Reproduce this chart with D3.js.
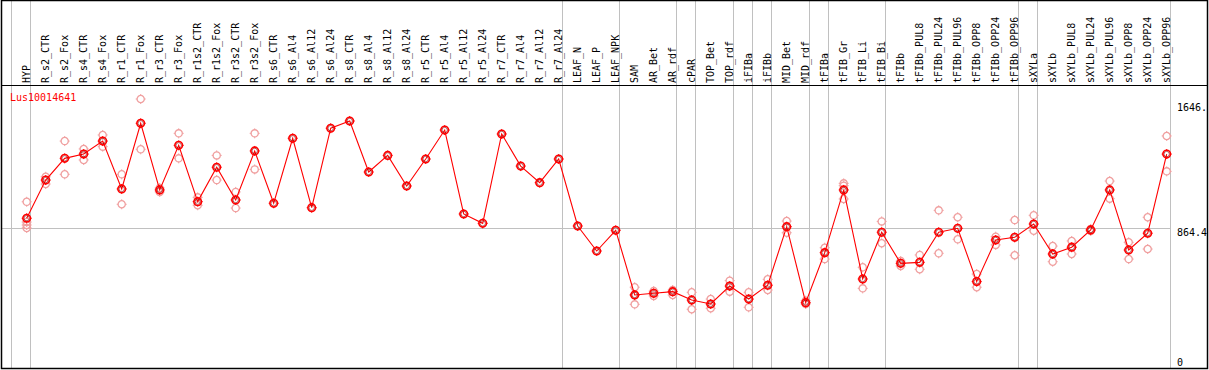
<!DOCTYPE html>
<html>
<head>
<meta charset="utf-8">
<script src="https://cdn.jsdelivr.net/npm/d3@7"></script>
<style>
  body { margin: 0; background: #fff; }
  svg { display: block; }
</style>
</head>
<body>
<div id="chart"></div>
<script>
const geneName = "Lus10014641"

const samples = [
  "HYP", "R_s2_CTR", "R_s2_Fox", "R_s4_CTR", "R_s4_Fox", "R_r1_CTR", "R_r1_Fox",
  "R_r3_CTR", "R_r3_Fox", "R_r1s2_CTR", "R_r1s2_Fox", "R_r3s2_CTR", "R_r3s2_Fox",
  "R_s6_CTR", "R_s6_Al4", "R_s6_Al12", "R_s6_Al24", "R_s8_CTR", "R_s8_Al4", "R_s8_Al12",
  "R_s8_Al24", "R_r5_CTR", "R_r5_Al4", "R_r5_Al12", "R_r5_Al24", "R_r7_CTR", "R_r7_Al4",
  "R_r7_Al12", "R_r7_Al24", "LEAF_N", "LEAF_P", "LEAF_NPK", "SAM", "AR_Bet", "AR_rdf",
  "cPAR", "TOP_Bet", "TOP_rdf", "iFIBa", "iFIBb", "MID_Bet", "MID_rdf", "tFIBa",
  "tFIB_Gr", "tFIB_Li", "tFIB_Bi", "tFIBb", "tFIBb_PUL8", "tFIBb_PUL24", "tFIBb_PUL96",
  "tFIBb_OPP8", "tFIBb_OPP24", "tFIBb_OPP96", "sXYLa", "sXYLb", "sXYLb_PUL8",
  "sXYLb_PUL24", "sXYLb_PUL96", "sXYLb_OPP8", "sXYLb_OPP24", "sXYLb_OPP96"
]

const meanValues = [
  922, 1154, 1286, 1312, 1391, 1100, 1499, 1094, 1365, 1023, 1232, 1033, 1331,
  1013, 1408, 986, 1469, 1513, 1203, 1304, 1118, 1282, 1458, 948, 891, 1434, 1239,
  1138, 1282, 875, 723, 849, 456, 466, 476, 425, 401, 510, 431, 515, 871, 409, 713,
  1094, 553, 837, 648, 654, 837, 861, 537, 790, 806, 887, 705, 746, 851, 1094, 729,
  831, 1312
]

const replicateValues = [
  [1022, 899, 881, 863], [1174, 1130], [1391, 1189], [1343, 1276], [1428, 1357],
  [1189, 1007], [1646.6, 1341], [1106, 1082], [1438, 1286], [1049, 1001],
  [1304, 1154], [1082, 984], [1438, 1219],
  [], [], [], [], [], [], [], [], [], [], [], [], [], [], [], [], [], [], [],
  [503, 456, 399], [480, 450], [486, 456], [472, 369], [431, 375], [543, 476],
  [472, 381], [551, 486], [905, 834], [421, 401], [743, 674], [1134, 1120, 1039],
  [624, 496], [903, 770], [662, 632], [699, 612], [970, 709], [928, 794],
  [583, 503], [810, 760], [911, 697], [940, 846], [753, 658], [784, 705],
  [857, 845], [1148, 1041], [776, 674], [928, 735], [1422, 1207]
]

// first sample of each tissue group gets a separator line
const groupStarts = [
  "HYP", "R_s2_CTR", "LEAF_N", "SAM", "cPAR", "TOP_Bet", "iFIBa", "iFIBb",
  "MID_Bet", "tFIBa", "tFIB_Gr", "tFIBb", "sXYLa", "sXYLb"
]

const yTicks = [0, 864.4, 1646.6]
const yTickLabels = ["0", "864.4", "1646."]

const width = 1209
const height = 370
const headerY = 85
const font = "'DejaVu Sans Mono', monospace"
const red = "#ff0000"
const pink = "#f0a0a0"
const grid = "#c0c0c0"

const x = d3.scaleBand()
  .domain(samples)
  .range([11.2, 11.2 + 19 * samples.length])
  .paddingInner(0)
  .paddingOuter(0)

const px = s => x(s) + 15.5

const y = d3.scaleLinear()
  .domain([0, d3.max(replicateValues.flat())])
  .range([370, 99])

const svg = d3.select("#chart")
  .append("svg")
  .attr("width", width)
  .attr("height", height)

svg.append("defs").append("clipPath").attr("id", "frame")
  .append("rect").attr("x", 1).attr("y", 0).attr("width", 1206).attr("height", 369)

const g = svg.append("g").attr("clip-path", "url(#frame)")

// vertical group separators
g.selectAll("line.vsep")
  .data(groupStarts.map(s => x(s)).concat([x.range()[1]]))
  .enter()
    .append("line")
    .attr("class", "vsep")
    .attr("x1", d => Math.round(d) + 0.5)
    .attr("x2", d => Math.round(d) + 0.5)
    .attr("y1", 0)
    .attr("y2", height)
    .attr("stroke", grid)
    .attr("stroke-width", 1)

// horizontal reference line
g.selectAll("line.hgrid")
  .data(yTicks.filter(t => t > 0 && t < y.domain()[1]))
  .enter()
    .append("line")
    .attr("class", "hgrid")
    .attr("x1", 1)
    .attr("x2", x.range()[1])
    .attr("y1", d => Math.round(y(d)) + 0.5)
    .attr("y2", d => Math.round(y(d)) + 0.5)
    .attr("stroke", grid)

// sample labels in the header
g.selectAll("text.sample")
  .data(samples)
  .enter()
    .append("text")
    .attr("class", "sample")
    .attr("transform", d => `translate(${px(d) + 3},83) rotate(-90)`)
    .attr("font-family", font)
    .attr("font-size", 10)
    .attr("fill", "#000")
    .text(d => d)

// header separator
g.append("line")
  .attr("x1", 0).attr("x2", width)
  .attr("y1", headerY + 0.5).attr("y2", headerY + 0.5)
  .attr("stroke", "#000").attr("stroke-width", 1.2)

// gene name
g.append("text")
  .attr("x", 10).attr("y", 101)
  .attr("font-family", font).attr("font-size", 10)
  .attr("fill", red)
  .text(geneName)

// right side value labels
g.selectAll("text.ytick")
  .data(yTicks)
  .enter()
    .append("text")
    .attr("class", "ytick")
    .attr("x", 1177)
    .attr("y", d => Math.min(Math.max(y(d) + 8.5, 111), 366))
    .attr("font-family", font)
    .attr("font-size", 10)
    .attr("fill", "#000")
    .text((d, i) => yTickLabels[i])

const marker = "M0,-5V-3.5M0,3.5V5M-5,0H-3.5M3.5,0H5"

// replicate points
const reps = samples.flatMap((s, i) => replicateValues[i].map(v => [s, v]))
const repG = g.selectAll("g.rep")
  .data(reps)
  .enter()
    .append("g")
    .attr("class", "rep")
    .attr("transform", d => `translate(${px(d[0])},${y(d[1])})`)
repG.append("circle")
  .attr("r", 3.6)
  .attr("fill", "none")
  .attr("stroke", pink)
  .attr("stroke-width", 1.3)
repG.append("path")
  .attr("d", marker)
  .attr("stroke", pink)
  .attr("stroke-width", 1)

// mean line
g.append("path")
  .datum(samples.map((s, i) => [px(s), y(meanValues[i])]))
  .attr("d", d3.line())
  .attr("fill", "none")
  .attr("stroke", red)
  .attr("stroke-width", 1.1)

// mean points
const meanG = g.selectAll("g.mean")
  .data(samples.map((s, i) => [s, meanValues[i]]))
  .enter()
    .append("g")
    .attr("class", "mean")
    .attr("transform", d => `translate(${px(d[0])},${y(d[1])})`)
meanG.append("circle")
  .attr("r", 2.7)
  .attr("fill", "none")
  .attr("stroke", "#700")
  .attr("stroke-width", 0.6)
meanG.append("circle")
  .attr("r", 3.8)
  .attr("fill", "none")
  .attr("stroke", red)
  .attr("stroke-width", 1.6)
meanG.append("path")
  .attr("d", marker)
  .attr("stroke", red)
  .attr("stroke-width", 1)

// outer frame
svg.append("rect")
  .attr("x", 1.5).attr("y", 0.5)
  .attr("width", 1206).attr("height", 368)
  .attr("fill", "none")
  .attr("stroke", "#000")
  .attr("stroke-width", 1.5)
</script>
</body>
</html>
